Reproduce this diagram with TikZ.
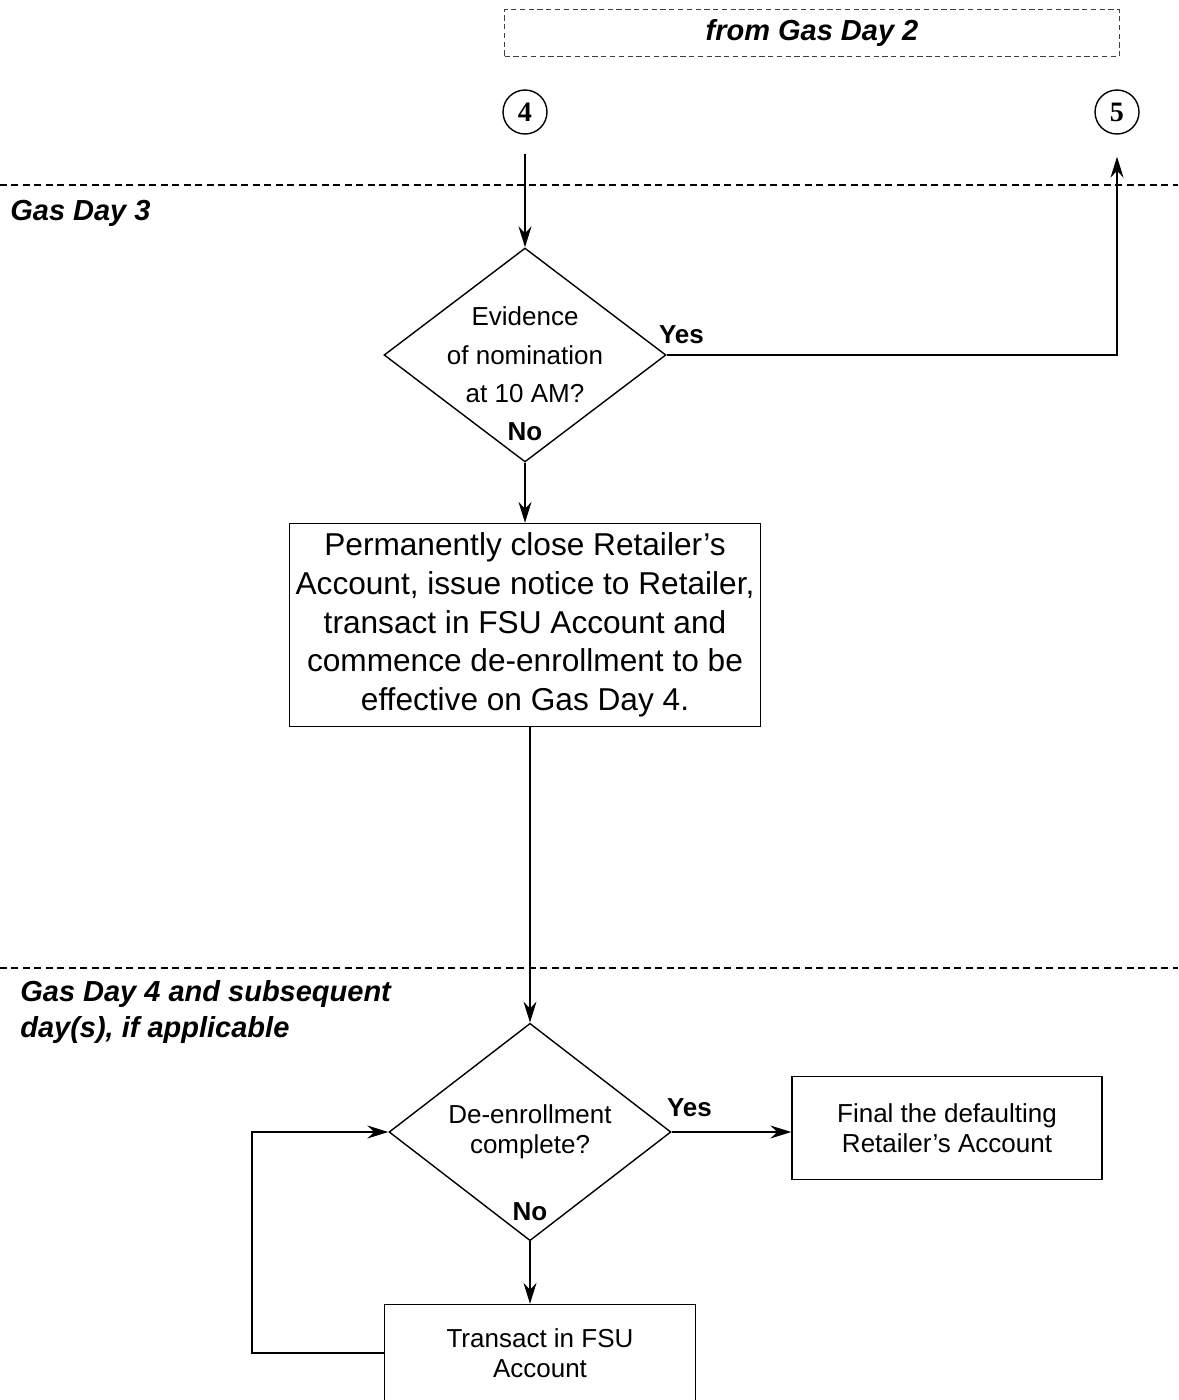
\documentclass[tikz,border=0pt]{standalone}
\usepackage{fontspec}
\setmainfont{Liberation Sans}
\newfontfamily\numfont{Liberation Serif}
\usetikzlibrary{positioning, arrows.meta, shapes.geometric}

\begin{document}
\begin{tikzpicture}[x=0.02cm, y=-0.02cm,
                    decision/.style={diamond, draw, line width=0.8pt, inner sep=0pt, align=center,
                                     minimum width=5.64cm, minimum height=4.28cm, font=\fontsize{14.8}{17}\selectfont},
                    process/.style={rectangle, draw, line width=0.8pt, align=center, font=\fontsize{14.8}{17}\selectfont},
                    connector/.style={-{Stealth[length=4.2mm, width=2.6mm, inset=1.4mm]}, line width=0.8pt},
                    heading/.style={font=\fontsize{16.5}{21}\selectfont\bfseries\itshape, inner sep=0pt, align=left},
                    answer/.style={font=\fontsize{14.8}{17}\selectfont\bfseries, inner sep=0pt},
                    offpage/.style={circle, draw, line width=0.8pt, minimum size=0.88cm, inner sep=0pt,
                                    font=\numfont\fontsize{16}{18}\selectfont\bfseries},
                    divider/.style={dash pattern=on 0.14cm off 0.09cm, line width=0.7pt}]

  \useasboundingbox (0,0) rectangle (1178,1400);
  \clip (0,0) rectangle (1178,1400);

  % Day headings
  \node[heading, draw=black!75, line width=0.5pt, dash pattern=on 3pt off 2pt,
        minimum width=12.3cm, minimum height=0.94cm] (gd2) at (812,33) {from Gas Day 2};
  \node[heading, anchor=west] (gd3) at (10,213) {Gas Day 3};
  \node[heading, anchor=west] (gd4) at (20,1012) {Gas Day 4 and subsequent\\day(s), if applicable};
  \draw[divider] (0,185) -- (1178,185);
  \draw[divider] (0,968) -- (1178,968);

  % Define steps
  \node[offpage] (c4) at (525,112) {4};
  \node[offpage] (c5) at (1117,112) {5};
  \node[decision, aspect=1.32, inner sep=-0.06cm, font=\fontsize{14.8}{22}\selectfont,
        label={[answer, anchor=south west, xshift=-0.16cm, yshift=0.22cm]east:Yes},
        label={[answer, anchor=south, yshift=0.44cm]south:No}] (d1) at (525,355)
        {Evidence\\of nomination\\at 10 AM?};
  \node[process, minimum width=9.32cm, minimum height=4.06cm, font=\fontsize{18}{22}\selectfont] (b1) at (525,625)
        {Permanently close Retailer's\\Account, issue notice to Retailer,\\transact in FSU Account and\\commence de-enrollment to be\\effective on Gas Day 4.};
  \node[decision,
        label={[answer, anchor=south west, xshift=-0.1cm, yshift=0.3cm]east:Yes},
        label={[answer, anchor=south, yshift=0.4cm]south:No}] (d2) at (530,1132)
        {De-enrollment\\complete?};
  \node[process, minimum width=6.2cm, minimum height=2.06cm] (b2) at (947,1128)
        {Final the defaulting\\Retailer's Account};
  \node[process, minimum width=6.22cm, minimum height=1.94cm] (b3) at (540,1353)
        {Transact in FSU\\Account};

  % Connections
  \draw[connector, shorten <=0.38cm] (c4) -- (d1);
  \draw[connector, shorten >=0.44cm] (d1.east) -| (c5);
  \draw[connector] (d1) -- (b1);
  \draw[connector] (b1.south -| d2.north) -- (d2);
  \draw[connector] (d2.east) -- (d2.east -| b2.west);
  \draw[connector] (d2.south) -- (d2.south |- b3.north);
  \draw[connector] (b3.west) -- ++(-132,0) |- (d2.west);

\end{tikzpicture}
\end{document}
